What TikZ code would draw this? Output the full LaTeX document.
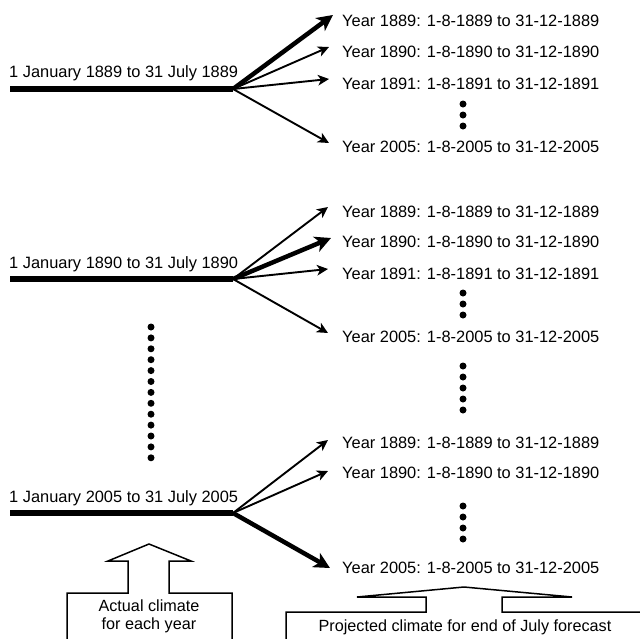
\documentclass[tikz,border=0pt]{standalone}
\usepackage{fontspec}
\setmainfont{Liberation Sans}
\usetikzlibrary{arrows.meta}
\begin{document}
\begin{tikzpicture}[x=1pt,y=-1pt,
  lbl/.style={font=\fontsize{16.4}{19}\selectfont, inner sep=0pt, anchor=base west},
  ctr/.style={font=\fontsize{16.2}{19}\selectfont, inner sep=0pt, anchor=base},
  bar/.style={line width=6.5pt},
  thinarr/.style={line width=1.9pt, -{Stealth[length=11pt,width=10.5pt,inset=3pt]}},
  thickarr/.style={line width=4.5pt, -{Stealth[length=16pt,width=16pt,inset=4.5pt]}},
  bigdot/.style={circle, fill=black, inner sep=0pt, minimum size=7pt},
  blk/.style={line width=1.5pt, line join=miter}
]
\useasboundingbox (0,0) rectangle (640,638);
\clip (0,0) rectangle (640,638);

% ---------- Block 1 ----------
\coordinate (s1) at (10,89);
\coordinate (h1) at (233,89);
\node[lbl] (l1) at (9,77.7) {1 January 1889 to 31 July 1889};
\draw[bar] (s1) -- (h1);
\node[lbl] (a1) at (342,26.7) {Year 1889: 1-8-1889 to 31-12-1889};
\node[lbl] (b1) at (342,57.7) {Year 1890: 1-8-1890 to 31-12-1890};
\node[lbl] (c1) at (342,89.7) {Year 1891: 1-8-1891 to 31-12-1891};
\node[lbl] (d1) at (342,152.7) {Year 2005: 1-8-2005 to 31-12-2005};
\coordinate (ea1) at (333,15);
\coordinate (eb1) at (329,47);
\coordinate (ec1) at (329,79);
\coordinate (ed1) at (329,143);
\draw[thickarr] (h1) -- (ea1);
\draw[thinarr] (h1) -- (eb1);
\draw[thinarr] (h1) -- (ec1);
\draw[thinarr] (h1) -- (ed1);
\foreach \y [count=\i] in {104,115,126} \node[bigdot] (p1\i) at (463,\y) {};

% ---------- Block 2 ----------
\coordinate (s2) at (10,279);
\coordinate (h2) at (233,279);
\node[lbl] (l2) at (9,268.7) {1 January 1890 to 31 July 1890};
\draw[bar] (s2) -- (h2);
\node[lbl] (a2) at (342,217.7) {Year 1889: 1-8-1889 to 31-12-1889};
\node[lbl] (b2) at (342,247.7) {Year 1890: 1-8-1890 to 31-12-1890};
\node[lbl] (c2) at (342,279.7) {Year 1891: 1-8-1891 to 31-12-1891};
\node[lbl] (d2) at (342,342.7) {Year 2005: 1-8-2005 to 31-12-2005};
\coordinate (ea2) at (328,207);
\coordinate (eb2) at (331,238);
\coordinate (ec2) at (328,269);
\coordinate (ed2) at (328,333);
\draw[thinarr] (h2) -- (ea2);
\draw[thickarr] (h2) -- (eb2);
\draw[thinarr] (h2) -- (ec2);
\draw[thinarr] (h2) -- (ed2);
\foreach \y [count=\i] in {293,304,315} \node[bigdot] (p2\i) at (463,\y) {};

% ---------- middle dots ----------
\foreach \y [count=\i] in {366,377,388,399,410} \node[bigdot] (pm\i) at (463,\y) {};
\foreach \i in {0,...,12} \node[bigdot] (q\i) at (151,327+10.9*\i) {};

% ---------- Block 3 ----------
\coordinate (s3) at (10,513);
\coordinate (h3) at (233,513);
\node[lbl] (l3) at (9,502.7) {1 January 2005 to 31 July 2005};
\draw[bar] (s3) -- (h3);
\node[lbl] (a3) at (342,448.7) {Year 1889: 1-8-1889 to 31-12-1889};
\node[lbl] (b3) at (342,478.7) {Year 1890: 1-8-1890 to 31-12-1890};
\node[lbl] (d3) at (342,573.7) {Year 2005: 1-8-2005 to 31-12-2005};
\coordinate (ea3) at (328,440);
\coordinate (eb3) at (328,471);
\coordinate (ed3) at (330,568);
\draw[thinarr] (h3) -- (ea3);
\draw[thinarr] (h3) -- (eb3);
\draw[thickarr] (h3) -- (ed3);
\foreach \y [count=\i] in {506,517,528,539} \node[bigdot] (p3\i) at (463,\y) {};

% ---------- bottom block arrows ----------
\draw[blk] (67,650) -- (67,593) -- (128,593) -- (128,561) -- (108,561) -- (149,544)
  -- (191,561) -- (169,561) -- (169,593) -- (232,593) -- (232,650);
\node[ctr] (act1) at (149,611.7) {Actual climate};
\node[ctr] (act2) at (149,629.7) {for each year};

\draw[blk] (286,650) -- (286,612) -- (426,612) -- (426,597) -- (357,597) -- (464,587)
  -- (572,597) -- (502,597) -- (502,612) -- (650,612);
\node[ctr] (proj) at (465,631.7) {Projected climate for end of July forecast};
\end{tikzpicture}
\end{document}
